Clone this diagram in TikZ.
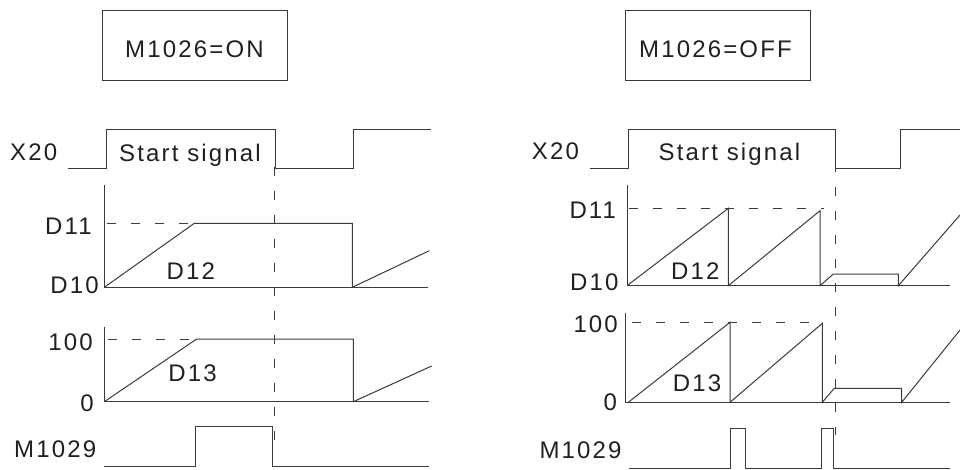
\documentclass[tikz,border=0pt]{standalone}
\usepackage{fontspec}
\setmainfont{Liberation Sans}[LetterSpace=9]
\definecolor{linec}{RGB}{58,58,58}
\definecolor{txtc}{RGB}{35,31,32}
\begin{document}
\begin{tikzpicture}[x=1pt,y=-1pt,
  sig/.style={draw=linec,line width=1pt,line join=miter},
  dsh/.style={draw=linec,line width=1pt,dash pattern=on 9pt off 15pt},
  lbl/.style={font=\fontsize{24}{28}\selectfont,text=txtc,inner sep=0pt},
  framebox/.style={draw=linec,line width=1pt,minimum width=185pt,minimum height=69.3pt,inner sep=0pt}]
\useasboundingbox (0,0) rectangle (960,469);
% ---------- boxes ----------
\node[framebox] (boxL) at (194.8,45.35) {};
\node[framebox] (boxR) at (717.5,45.35) {};
\node[lbl,anchor=base] (tL) at (194.5,57.3) {M1026=ON};
\node[lbl,anchor=base] (tR) at (715.5,57.3) {M1026=OFF};
% ---------- left diagram ----------
\node[lbl,anchor=base west] (xL) at (10,160) {X20};
\node[lbl,anchor=base] (sL) at (190,161) {Start signal};
\node[lbl,anchor=base west] (d11L) at (45,234) {D11};
\node[lbl,anchor=base east] (d10L) at (99,293.3) {D10};
\node[lbl,anchor=base] (d12L) at (190.8,279) {D12};
\node[lbl,anchor=base east] (c100L) at (93,350) {100};
\node[lbl,anchor=base east] (c0L) at (94,411.5) {0};
\node[lbl,anchor=base] (d13L) at (192.5,381.7) {D13};
\node[lbl,anchor=base west] (mL) at (14,457.7) {M1029};
\draw[sig] (67.7,168.3) -- (106,168.3) -- (106,129.3) -- (275,129.3) -- (275,168.3) -- (353.3,168.3) -- (353.3,129.3) -- (431,129.3);
\draw[sig] (104.3,185) -- (104.3,287.3) -- (427.7,287.3);
\draw[dsh] (106.7,223.3) -- (194.3,223.3);
\draw[sig] (104.3,287.3) -- (194.3,223.3) -- (352.3,223.3) -- (352.3,287.3);
\draw[sig] (352.3,287.3) -- (429.3,250.7);
\draw[dsh] (274.3,166.7) -- (274.3,450);
\draw[sig] (104.3,326.7) -- (104.3,401.7) -- (429.3,401.7);
\draw[dsh] (108,339) -- (195,339);
\draw[sig] (104.3,401.7) -- (196.7,339) -- (353.3,339) -- (353.3,401.7);
\draw[sig] (353.3,401.7) -- (431.7,366);
\draw[sig] (104.3,466.7) -- (195,466.7) -- (195,426.7) -- (272.7,426.7) -- (272.7,466.7) -- (429.3,466.7);
% ---------- right diagram ----------
\node[lbl,anchor=base west] (xR) at (531.7,159.3) {X20};
\node[lbl,anchor=base] (sR) at (729.5,160) {Start signal};
\node[lbl,anchor=base west] (d11R) at (569.3,218.3) {D11};
\node[lbl,anchor=base west] (d10R) at (570,290) {D10};
\node[lbl,anchor=base] (d12R) at (695.3,279) {D12};
\node[lbl,anchor=base west] (c100R) at (573.3,332.3) {100};
\node[lbl,anchor=base west] (c0R) at (603.3,410) {0};
\node[lbl,anchor=base] (d13R) at (697,391.7) {D13};
\node[lbl,anchor=base west] (mR) at (539.3,458.3) {M1029};
\draw[sig] (590,168.3) -- (628.7,168.3) -- (628.7,129.3) -- (835.7,129.3) -- (835.7,168.3) -- (900.7,168.3) -- (900.7,129.3) -- (960,129.3);
\draw[sig] (627,185) -- (627,285.7) -- (950,285.7);
\draw[dsh] (629.3,208.3) -- (824.3,208.3);
\draw[sig] (627,285.7) -- (728.3,208.3) -- (728.3,285.7) -- (820,210.7) -- (820,285.7) -- (833.3,274) -- (898.3,274) -- (898.3,285.7) -- (960,215);
\draw[dsh] (835.7,163) -- (835.7,435);
\draw[sig] (625.7,313.3) -- (625.7,402.3) -- (950,402.3);
\draw[dsh] (631.7,322.3) -- (819.3,322.3);
\draw[sig] (628.3,402.3) -- (730,322.3) -- (730,402.3) -- (822.3,323.3) -- (822.3,402.3) -- (834.3,388.3) -- (901.7,388.3) -- (901.7,402.3) -- (960,330);
\draw[sig] (629,468.3) -- (730.7,468.3) -- (730.7,428.3) -- (745.7,428.3) -- (745.7,468.3) -- (821,468.3) -- (821,428.3) -- (833.3,428.3) -- (833.3,468.3) -- (950,468.3);
\end{tikzpicture}
\end{document}
